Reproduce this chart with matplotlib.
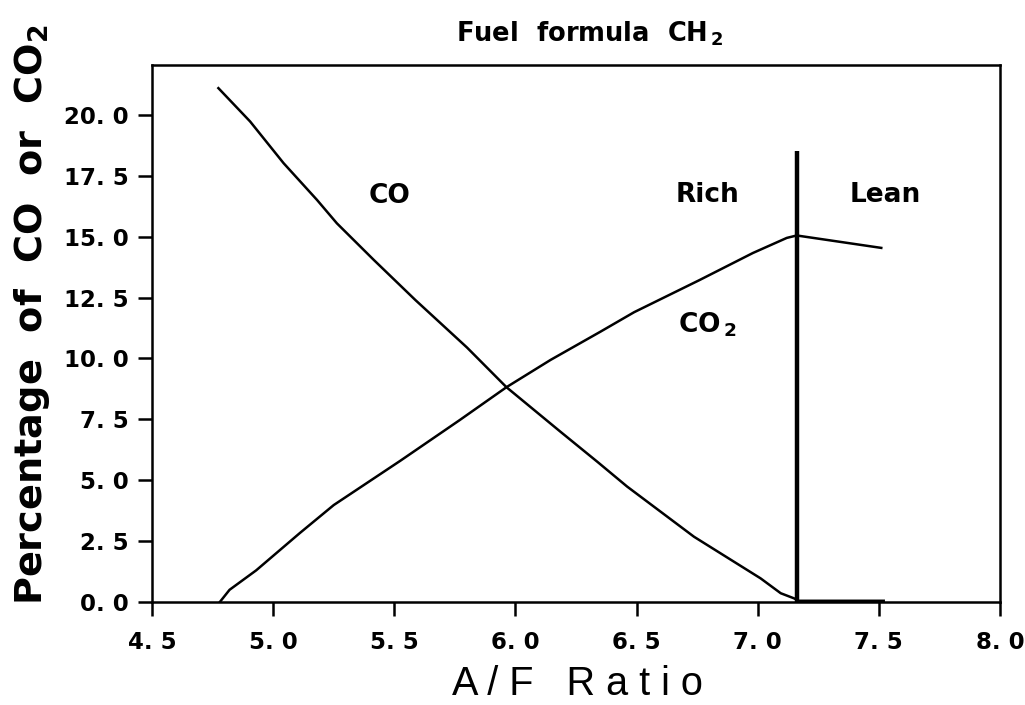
import matplotlib
matplotlib.use("Agg")
import matplotlib.pyplot as plt
from matplotlib.ticker import FixedLocator, FixedFormatter

plt.rcParams['font.family'] = ['DejaVu Sans']
plt.rcParams['mathtext.default'] = 'regular'

# A/F ratio vs percentage
co_x = [4.774, 4.905, 5.043, 5.181, 5.263, 5.415, 5.587, 5.80, 5.963, 6.186, 6.339,
        6.461, 6.737, 7.012, 7.095, 7.15, 7.17, 7.52]
co_y = [21.10, 19.73, 18.02, 16.51, 15.55, 14.05, 12.40, 10.45, 8.82, 6.99, 5.75,
        4.74, 2.68, 0.97, 0.36, 0.15, 0.05, 0.05]

co2_x = [4.78, 4.82, 4.93, 5.11, 5.25, 5.525, 5.77, 5.963, 6.145, 6.351, 6.49, 6.76,
         6.98, 7.12, 7.161, 7.51]
co2_y = [0.0, 0.5, 1.3, 2.83, 3.98, 5.8, 7.47, 8.82, 9.94, 11.10, 11.9, 13.22,
         14.33, 14.95, 15.05, 14.54]

stoich_x = 7.161
stoich_top = 18.5

x_ticks = [4.5, 5.0, 5.5, 6.0, 6.5, 7.0, 7.5, 8.0]
x_labels = ['4. 5', '5. 0', '5. 5', '6. 0', '6. 5', '7. 0', '7. 5', '8. 0']
y_ticks = [0.0, 2.5, 5.0, 7.5, 10.0, 12.5, 15.0, 17.5, 20.0]
y_labels = ['0. 0', '2. 5', '5. 0', '7. 5', '10. 0', '12. 5', '15. 0', '17. 5', '20. 0']

fig = plt.figure(figsize=(10.25, 7.05), dpi=100)
ax = fig.add_axes([0.1483, 0.1461, 0.8273, 0.7617])

ax.plot(co_x, co_y, color='black', lw=1.8)
ax.plot(co2_x, co2_y, color='black', lw=1.8)
ax.plot([stoich_x, stoich_x], [0, stoich_top], color='black', lw=3.2, solid_capstyle='butt')

ax.set_xlim(4.5, 8.0)
ax.set_ylim(0, 22.05)

ax.xaxis.set_major_locator(FixedLocator(x_ticks))
ax.xaxis.set_major_formatter(FixedFormatter(x_labels))
ax.yaxis.set_major_locator(FixedLocator(y_ticks))
ax.yaxis.set_major_formatter(FixedFormatter(y_labels))
ax.tick_params(direction='out', length=10, width=1.8, labelsize=16.5)
ax.tick_params(axis='x', pad=11)
ax.tick_params(axis='y', pad=7)
for lab in ax.get_xticklabels() + ax.get_yticklabels():
    lab.set_fontweight('bold')
for s in ax.spines.values():
    s.set_linewidth(1.8)

ax.text(5.481, 16.39, 'CO', fontsize=19, fontweight='bold', ha='center', va='baseline')
ax.text(6.791, 16.43, 'Rich', fontsize=19, fontweight='bold', ha='center', va='baseline')
ax.text(7.525, 16.43, 'Lean', fontsize=19, fontweight='bold', ha='center', va='baseline')
ax.text(6.669, 11.05, 'CO$_{\\,2}$', fontsize=19, fontweight='bold', ha='left', va='baseline')

fig.text(0.445, 0.9418, 'Fuel  formula  CH$_{\\,2}$', fontsize=18.5, fontweight='bold',
         ha='left', va='baseline')
fig.text(0.441, 0.014, 'A / F   R a t i o', family='Liberation Sans', fontsize=28.5,
         ha='left', va='baseline')
fig.text(0.041, 0.1418, 'Percentage  of  CO  or  CO$_2$', fontsize=27.5, fontweight='bold',
         rotation=90, rotation_mode='anchor', ha='left', va='baseline')

fig.savefig('out.png', dpi=100)
